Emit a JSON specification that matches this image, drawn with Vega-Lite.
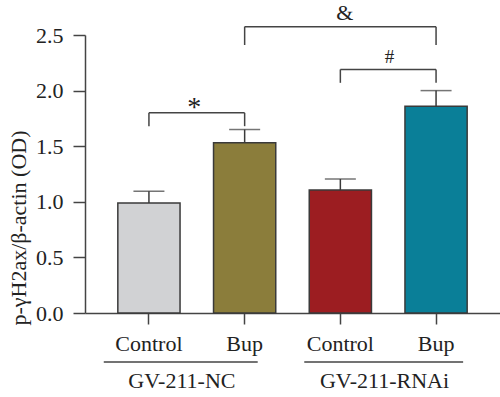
{
  "$schema": "https://vega.github.io/schema/vega-lite/v6.json",
  "width": 415,
  "height": 278,
  "autosize": "none",
  "padding": {"left": 85, "top": 35, "right": 0, "bottom": 84},
  "background": "white",
  "config": {"view": {"stroke": null}, "font": "Liberation Serif"},
  "datasets": {
    "bars": [
      {"cond": "NC Control", "mean": 0.99, "upper": 1.095},
      {"cond": "NC Bup", "mean": 1.53, "upper": 1.65},
      {"cond": "RNAi Control", "mean": 1.105, "upper": 1.205},
      {"cond": "RNAi Bup", "mean": 1.86, "upper": 2.0}
    ],
    "brackets": [
      {"left": "NC Control", "right": "NC Bup", "top": 1.8, "bottom": 1.68, "label": "*", "labelY": 1.77},
      {"left": "RNAi Control", "right": "RNAi Bup", "top": 2.19, "bottom": 2.07, "label": "#", "labelY": 2.25},
      {"left": "NC Bup", "right": "RNAi Bup", "top": 2.575, "bottom": 2.41, "label": "&", "labelY": 2.635}
    ],
    "groups": [
      {"group": "GV-211-NC", "first": "NC Control", "last": "NC Bup", "lineY": -0.44, "textY": -0.674},
      {"group": "GV-211-RNAi", "first": "RNAi Control", "last": "RNAi Bup", "lineY": -0.44, "textY": -0.674}
    ]
  },
  "layer": [
    {
      "data": {"name": "bars"},
      "mark": {"type": "bar", "stroke": "#3a3a3a", "strokeWidth": 1.5},
      "encoding": {
        "x": {
          "field": "cond", "type": "nominal", "sort": null,
          "scale": {"domain": ["NC Control", "NC Bup", "RNAi Control", "RNAi Bup"], "paddingInner": 0.35, "paddingOuter": 0.343},
          "axis": {
            "title": null, "labelExpr": "split(datum.label, ' ')[1]", "labelAngle": 0,
            "labelFont": "Liberation Serif", "labelFontSize": 22, "labelColor": "#222",
            "labelPadding": 9, "tickSize": 11, "tickWidth": 1.5, "tickColor": "#444",
            "domainColor": "#444", "domainWidth": 1.5
          }
        },
        "y": {
          "field": "mean", "type": "quantitative",
          "scale": {"domain": [0, 2.5], "nice": false},
          "axis": {
            "values": [0, 0.5, 1, 1.5, 2, 2.5], "format": ".1f", "grid": false,
            "title": "p-γH2ax/β-actin (OD)", "titleFont": "Liberation Serif", "titleFontSize": 22,
            "titleFontWeight": "normal", "titleColor": "#222", "titleX": -67, "titleY": 290,
            "titleAnchor": "start", "titleAlign": "left", "titleBaseline": "middle", "titleAngle": 270,
            "labelFont": "Liberation Serif", "labelFontSize": 22, "labelColor": "#222",
            "labelPadding": 10, "tickSize": 12, "tickWidth": 1.5, "tickColor": "#444",
            "domainColor": "#444", "domainWidth": 1.5
          }
        },
        "fill": {
          "field": "cond", "type": "nominal", "sort": null,
          "scale": {"domain": ["NC Control", "NC Bup", "RNAi Control", "RNAi Bup"], "range": ["#d1d2d4", "#8b7d3b", "#9c1d21", "#0a7f98"]},
          "legend": null
        }
      }
    },
    {
      "data": {"name": "bars"},
      "mark": {"type": "rule", "stroke": "#3a3a3a", "strokeWidth": 1.5},
      "encoding": {
        "x": {"field": "cond", "type": "nominal", "sort": null, "scale": {"domain": ["NC Control", "NC Bup", "RNAi Control", "RNAi Bup"]}},
        "y": {"field": "mean", "type": "quantitative"},
        "y2": {"field": "upper"}
      }
    },
    {
      "data": {"name": "bars"},
      "mark": {"type": "tick", "color": "#3a3a3a", "size": 31, "thickness": 1.5},
      "encoding": {
        "x": {"field": "cond", "type": "nominal", "sort": null, "scale": {"domain": ["NC Control", "NC Bup", "RNAi Control", "RNAi Bup"]}},
        "y": {"field": "upper", "type": "quantitative"}
      }
    },
    {
      "data": {"name": "brackets"},
      "mark": {"type": "rule", "stroke": "#444", "strokeWidth": 1.5},
      "encoding": {
        "x": {"field": "left", "type": "nominal", "sort": null, "scale": {"domain": ["NC Control", "NC Bup", "RNAi Control", "RNAi Bup"]}},
        "x2": {"field": "right"},
        "y": {"field": "top", "type": "quantitative"}
      }
    },
    {
      "data": {"name": "brackets"},
      "mark": {"type": "rule", "stroke": "#444", "strokeWidth": 1.5},
      "encoding": {
        "x": {"field": "left", "type": "nominal", "sort": null, "scale": {"domain": ["NC Control", "NC Bup", "RNAi Control", "RNAi Bup"]}},
        "y": {"field": "top", "type": "quantitative"},
        "y2": {"field": "bottom"}
      }
    },
    {
      "data": {"name": "brackets"},
      "mark": {"type": "rule", "stroke": "#444", "strokeWidth": 1.5},
      "encoding": {
        "x": {"field": "right", "type": "nominal", "sort": null, "scale": {"domain": ["NC Control", "NC Bup", "RNAi Control", "RNAi Bup"]}},
        "y": {"field": "top", "type": "quantitative"},
        "y2": {"field": "bottom"}
      }
    },
    {
      "data": {"name": "brackets"},
      "transform": [{"filter": "datum.label === '*'"}],
      "mark": {"type": "text", "font": "Liberation Serif", "fontSize": 28, "color": "#222", "baseline": "alphabetic", "align": "center"},
      "encoding": {
        "x": {"field": "left", "type": "nominal", "sort": null, "bandPosition": 1.23, "scale": {"domain": ["NC Control", "NC Bup", "RNAi Control", "RNAi Bup"]}},
        "y": {"field": "labelY", "type": "quantitative"},
        "text": {"field": "label"}
      }
    },
    {
      "data": {"name": "brackets"},
      "transform": [{"filter": "datum.label === '#'"}],
      "mark": {"type": "text", "font": "Liberation Serif", "fontSize": 19, "color": "#222", "baseline": "alphabetic", "align": "center"},
      "encoding": {
        "x": {"field": "left", "type": "nominal", "sort": null, "bandPosition": 1.29, "scale": {"domain": ["NC Control", "NC Bup", "RNAi Control", "RNAi Bup"]}},
        "y": {"field": "labelY", "type": "quantitative"},
        "text": {"field": "label"}
      }
    },
    {
      "data": {"name": "brackets"},
      "transform": [{"filter": "datum.label === '&'"}],
      "mark": {"type": "text", "font": "Liberation Serif", "fontSize": 22, "color": "#222", "baseline": "alphabetic", "align": "center"},
      "encoding": {
        "x": {"field": "left", "type": "nominal", "sort": null, "bandPosition": 2.11, "scale": {"domain": ["NC Control", "NC Bup", "RNAi Control", "RNAi Bup"]}},
        "y": {"field": "labelY", "type": "quantitative"},
        "text": {"field": "label"}
      }
    },
    {
      "data": {"name": "groups"},
      "transform": [{"filter": "datum.group === 'GV-211-NC'"}],
      "layer": [
        {
          "mark": {"type": "rule", "stroke": "#444", "strokeWidth": 1.5},
          "encoding": {
            "x": {"field": "first", "type": "nominal", "sort": null, "bandPosition": -0.226, "scale": {"domain": ["NC Control", "NC Bup", "RNAi Control", "RNAi Bup"]}},
            "x2": {"field": "last", "bandPosition": 0.71},
            "y": {"field": "lineY", "type": "quantitative"}
          }
        },
        {
          "mark": {"type": "text", "font": "Liberation Serif", "fontSize": 22, "color": "#222", "baseline": "alphabetic", "align": "center"},
          "encoding": {
            "x": {"field": "first", "type": "nominal", "sort": null, "bandPosition": 1.03, "scale": {"domain": ["NC Control", "NC Bup", "RNAi Control", "RNAi Bup"]}},
            "y": {"field": "textY", "type": "quantitative"},
            "text": {"field": "group"}
          }
        }
      ]
    },
    {
      "data": {"name": "groups"},
      "transform": [{"filter": "datum.group === 'GV-211-RNAi'"}],
      "layer": [
        {
          "mark": {"type": "rule", "stroke": "#444", "strokeWidth": 1.5},
          "encoding": {
            "x": {"field": "first", "type": "nominal", "sort": null, "bandPosition": -0.08, "scale": {"domain": ["NC Control", "NC Bup", "RNAi Control", "RNAi Bup"]}},
            "x2": {"field": "last", "bandPosition": 0.935},
            "y": {"field": "lineY", "type": "quantitative"}
          }
        },
        {
          "mark": {"type": "text", "font": "Liberation Serif", "fontSize": 22, "color": "#222", "baseline": "alphabetic", "align": "center"},
          "encoding": {
            "x": {"field": "first", "type": "nominal", "sort": null, "bandPosition": 1.21, "scale": {"domain": ["NC Control", "NC Bup", "RNAi Control", "RNAi Bup"]}},
            "y": {"field": "textY", "type": "quantitative"},
            "text": {"field": "group"}
          }
        }
      ]
    }
  ]
}
